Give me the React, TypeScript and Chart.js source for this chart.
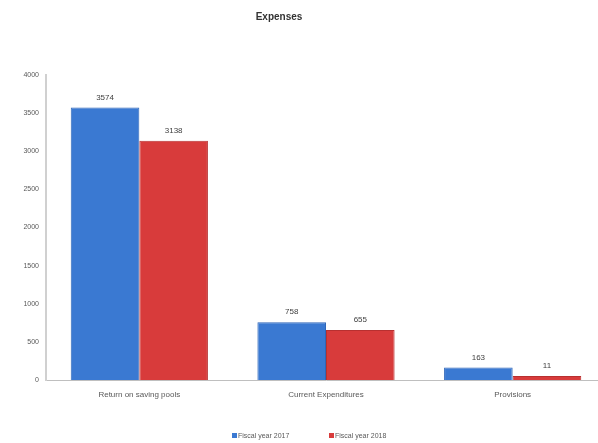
import React, { useEffect, useRef } from "react";
import { Chart, registerables } from "chart.js";

Chart.register(...registerables);

const categories = ["Return on saving pools", "Current Expenditures", "Provisions"];
const fy2017 = [3574, 758, 163];
const fy2018 = [3138, 655, 11];
const seriesNames = ["Fiscal year 2017", "Fiscal year 2018"];
const yTicks = [0, 500, 1000, 1500, 2000, 2500, 3000, 3500, 4000];
const titleText = "Expenses";

const FONT = "'Liberation Sans', Arial, sans-serif";
const BLUE = "#3a79d2";
const RED = "#d83b3b";

const overlayPlugin = {
  id: "overlay",
  afterDatasetsDraw(chart: any) {
    const { ctx } = chart;
    ctx.save();
    ctx.font = `8px ${FONT}`;
    ctx.fillStyle = "#404040";
    ctx.textAlign = "center";
    ctx.textBaseline = "bottom";
    chart.data.datasets.forEach((ds: any, i: number) => {
      const meta = chart.getDatasetMeta(i);
      meta.data.forEach((bar: any, j: number) => {
        ctx.fillText(String(ds.data[j]), bar.x, bar.y - 6);
      });
    });
    ctx.font = `bold 10px ${FONT}`;
    ctx.fillStyle = "#333333";
    ctx.textBaseline = "middle";
    ctx.fillText(titleText, 279, 17);
    ctx.font = `7px ${FONT}`;
    ctx.textAlign = "left";
    const items = [
      { x: 232, color: BLUE, label: seriesNames[0] },
      { x: 329, color: RED, label: seriesNames[1] },
    ];
    items.forEach((it) => {
      ctx.fillStyle = it.color;
      ctx.fillRect(it.x, 433, 5, 5);
      ctx.fillStyle = "#595959";
      ctx.fillText(it.label, it.x + 6, 436);
    });
    ctx.restore();
  },
};

export default function App() {
  const ref = useRef<HTMLCanvasElement>(null);
  useEffect(() => {
    if (!ref.current) return;
    const chart = new Chart(ref.current, {
      type: "bar",
      data: {
        labels: categories,
        datasets: [
          {
            label: seriesNames[0],
            data: fy2017,
            backgroundColor: BLUE,
            borderColor: "#2f66b8",
            borderWidth: { left: 1, right: 1, top: 1, bottom: 0 },
            barPercentage: 1,
            categoryPercentage: 0.735,
            minBarLength: 3,
          },
          {
            label: seriesNames[1],
            data: fy2018,
            backgroundColor: RED,
            borderColor: "#b83030",
            borderWidth: { left: 1, right: 1, top: 1, bottom: 0 },
            barPercentage: 1,
            categoryPercentage: 0.735,
            minBarLength: 4,
          },
        ],
      },
      options: {
        responsive: false,
        animation: false,
        layout: { padding: { left: 0, right: 0, top: 75, bottom: 33 } },
        plugins: {
          legend: { display: false },
          title: { display: false },
          tooltip: { enabled: false },
        },
        scales: {
          x: {
            grid: { display: false, drawTicks: false },
            border: { color: "#bfbfbf", width: 1 },
            ticks: {
              color: "#595959",
              font: { family: FONT, size: 8 },
              padding: 10,
              maxRotation: 0,
            },
            afterFit: (s: any) => {
              s.height = 30;
            },
          },
          y: {
            min: 0,
            max: 4000,
            afterBuildTicks: (s: any) => {
              s.ticks = yTicks.map((v) => ({ value: v }));
            },
            grid: { display: false, drawTicks: true, tickLength: 3, tickColor: "#d9d9d9" },
            border: { color: "#d0d0d0", width: 2 },
            ticks: {
              color: "#595959",
              font: { family: FONT, size: 7 },
              padding: 4,
              callback: (v: any) => String(v),
            },
            afterFit: (s: any) => {
              s.width = 46;
            },
          },
        },
      },
      plugins: [overlayPlugin],
    });
    return () => chart.destroy();
  }, []);
  return (
    <div style={{ position: "absolute", left: 0, top: 0, width: 606, height: 443, overflow: "hidden", background: "#fff" }}>
      <canvas ref={ref} width={606} height={443} style={{ display: "block" }} />
    </div>
  );
}
